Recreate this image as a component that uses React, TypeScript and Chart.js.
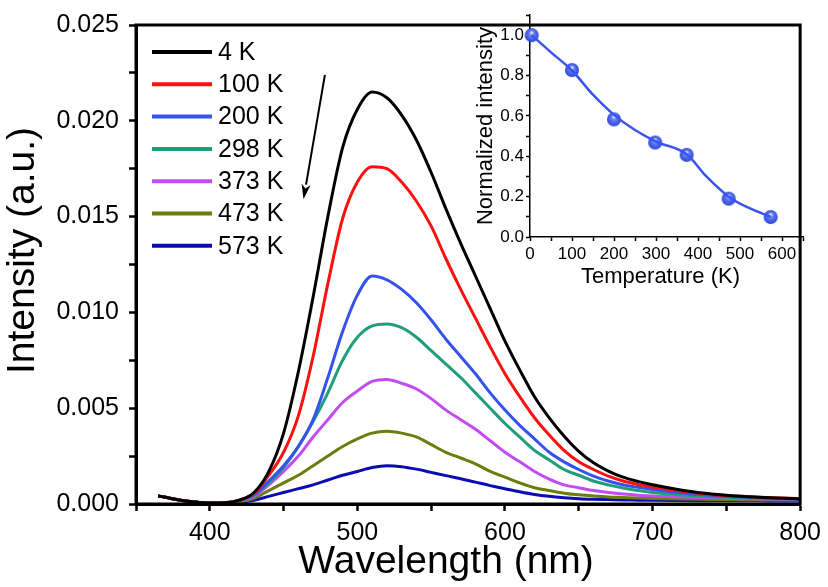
import React, { useEffect, useRef } from 'react';
import { Chart, registerables } from 'chart.js';

Chart.register(...registerables);

const FONT = '"Liberation Sans", Arial, Helvetica, sans-serif';

// ---------- main spectra ----------
const WAVELENGTHS = [365, 370, 380, 390, 400, 410, 420, 430, 440, 450, 460, 470, 480, 490, 500, 510, 520, 530, 540, 550, 560, 570, 580, 590, 600, 610, 620, 630, 640, 650, 660, 670, 680, 690, 700, 720, 740, 760, 780, 800];

const I_4K = [0.00042, 0.00035, 0.0002, 0.0001, 0.00005, 0.00006, 0.0002, 0.0006, 0.0017, 0.0037, 0.0069, 0.0108, 0.015, 0.0186, 0.0206, 0.0215, 0.0212, 0.0203, 0.019, 0.0173, 0.0154, 0.0136, 0.0119, 0.0102, 0.0085, 0.007, 0.0056, 0.0045, 0.00355, 0.00275, 0.00215, 0.00172, 0.0014, 0.00118, 0.001, 0.00072, 0.00052, 0.0004, 0.00032, 0.00027];
const I_100K = [0.00042, 0.00035, 0.0002, 0.0001, 0.00005, 0.00006, 0.0002, 0.00055, 0.0015, 0.0027, 0.0046, 0.0077, 0.0115, 0.0149, 0.0168, 0.0176, 0.0175, 0.0168, 0.0158, 0.0145, 0.0128, 0.0112, 0.0097, 0.0082, 0.0068, 0.0056, 0.0045, 0.0036, 0.0028, 0.0022, 0.0018, 0.00145, 0.0012, 0.00102, 0.00088, 0.00066, 0.0005, 0.0004, 0.00033, 0.00028];
const I_200K = [0.00042, 0.00035, 0.0002, 0.0001, 0.00005, 0.00006, 0.00018, 0.0005, 0.0012, 0.002, 0.003, 0.0044, 0.0066, 0.009, 0.0109, 0.0119, 0.0117, 0.0112, 0.0105, 0.0096, 0.0086, 0.0077, 0.0068, 0.0058, 0.0049, 0.0041, 0.0034, 0.0027, 0.0022, 0.0018, 0.00145, 0.0012, 0.001, 0.00087, 0.00076, 0.00058, 0.00045, 0.00036, 0.0003, 0.00026];
const I_298K = [0.00042, 0.00035, 0.0002, 0.0001, 0.00005, 0.00006, 0.00016, 0.00045, 0.0011, 0.0019, 0.003, 0.0043, 0.0058, 0.0075, 0.0087, 0.0093, 0.0094, 0.0092, 0.0087, 0.008, 0.0073, 0.0066, 0.0058, 0.005, 0.0042, 0.0035, 0.0028, 0.0023, 0.0018, 0.0015, 0.0012, 0.001, 0.00083, 0.0007, 0.0006, 0.00047, 0.00038, 0.00032, 0.00028, 0.00025];
const I_373K = [0.00042, 0.00035, 0.0002, 0.0001, 0.00005, 0.00006, 0.00015, 0.0004, 0.001, 0.0017, 0.0025, 0.0035, 0.0044, 0.0053, 0.0059, 0.0064, 0.0065, 0.0063, 0.006, 0.0055, 0.0049, 0.0044, 0.0039, 0.0033, 0.0027, 0.0022, 0.0017, 0.0013, 0.001, 0.00085, 0.0007, 0.0006, 0.00052, 0.00046, 0.00042, 0.00036, 0.00031, 0.00028, 0.00025, 0.00023];
const I_473K = [0.00042, 0.00035, 0.0002, 0.0001, 0.00005, 0.00006, 0.00012, 0.0003, 0.0007, 0.0011, 0.0015, 0.002, 0.0025, 0.003, 0.0034, 0.0037, 0.0038, 0.0037, 0.0035, 0.0031, 0.0027, 0.0024, 0.0021, 0.0017, 0.0014, 0.0011, 0.00085, 0.0007, 0.00056, 0.00048, 0.00042, 0.00037, 0.00034, 0.00031, 0.00029, 0.00026, 0.00024, 0.00022, 0.00021, 0.0002];
const I_573K = [0.00042, 0.00035, 0.0002, 0.0001, 0.00005, 0.00005, 0.0001, 0.0002, 0.0004, 0.0006, 0.0008, 0.001, 0.00125, 0.0015, 0.0017, 0.0019, 0.002, 0.00195, 0.00182, 0.00165, 0.00148, 0.00132, 0.00114, 0.00096, 0.0008, 0.00064, 0.0005, 0.0004, 0.00033, 0.00028, 0.00025, 0.00023, 0.00021, 0.0002, 0.00019, 0.00018, 0.00017, 0.00017, 0.00016, 0.00016];

const SERIES_LABELS = ['4 K', '100 K', '200 K', '298 K', '373 K', '473 K', '573 K'];
const SERIES_VALUES = [I_4K, I_100K, I_200K, I_298K, I_373K, I_473K, I_573K];
const SERIES_COLORS = ['#000000', '#ff1010', '#3352ee', '#1f9e7c', '#c24cf2', '#6b7d0a', '#0c0cb4'];

const X_TICK_LABELS = [400, 500, 600, 700, 800];
const Y_TICK_LABELS = [0, 0.005, 0.01, 0.015, 0.02, 0.025];

// arrow annotation (data coordinates)
const ARROW_FROM = { x: 478, y: 0.0224 };
const ARROW_TO = { x: 463.5, y: 0.0159 };

// ---------- inset ----------
const TEMPS = [4, 100, 200, 298, 373, 473, 573];
const NORM_INT = [1.0, 0.827, 0.583, 0.468, 0.407, 0.19, 0.099];
const FIT_T = [4, 50, 100, 150, 200, 250, 300, 373, 420, 473, 520, 573];
const FIT_Y = [1.0, 0.915, 0.825, 0.705, 0.605, 0.53, 0.473, 0.41, 0.3, 0.2, 0.145, 0.1];

function makeSphere(r: number) {
  const size = Math.ceil(r * 2 + 2);
  const c = document.createElement('canvas');
  c.width = size;
  c.height = size;
  const g = c.getContext('2d')!;
  const cx = size / 2;
  const grad = g.createRadialGradient(cx, cx - r * 0.4, r * 0.05, cx, cx, r);
  grad.addColorStop(0, '#f2f4ff');
  grad.addColorStop(0.3, '#6b82f2');
  grad.addColorStop(1, '#2b45d6');
  g.fillStyle = grad;
  g.beginPath();
  g.arc(cx, cx, r, 0, Math.PI * 2);
  g.fill();
  return c;
}

export default function App() {
  const mainRef = useRef<HTMLCanvasElement>(null);
  const insetRef = useRef<HTMLCanvasElement>(null);

  useEffect(() => {
    document.body.style.margin = '0';
    Chart.defaults.font.family = FONT;
    Chart.defaults.color = '#000';

    const framePlugin = {
      id: 'frame',
      afterDatasetsDraw(chart: any) {
        const { ctx, chartArea: a, scales } = chart;
        ctx.save();
        ctx.strokeStyle = '#000';
        ctx.lineWidth = 3;
        ctx.strokeRect(a.left, a.top, a.right - a.left, a.bottom - a.top);

        // arrow
        const x1 = scales.x.getPixelForValue(ARROW_FROM.x);
        const y1 = scales.y.getPixelForValue(ARROW_FROM.y);
        const x2 = scales.x.getPixelForValue(ARROW_TO.x);
        const y2 = scales.y.getPixelForValue(ARROW_TO.y);
        const ang = Math.atan2(y2 - y1, x2 - x1);
        const hl = 15;
        const hw = 4.5;
        const bx = x2 - hl * Math.cos(ang);
        const by = y2 - hl * Math.sin(ang);
        ctx.lineWidth = 2;
        ctx.beginPath();
        ctx.moveTo(x1, y1);
        ctx.lineTo(bx, by);
        ctx.stroke();
        ctx.fillStyle = '#000';
        ctx.beginPath();
        ctx.moveTo(x2, y2);
        ctx.lineTo(bx + hw * Math.sin(ang), by - hw * Math.cos(ang));
        ctx.lineTo(bx + 4 * Math.cos(ang), by + 4 * Math.sin(ang));
        ctx.lineTo(bx - hw * Math.sin(ang), by + hw * Math.cos(ang));
        ctx.closePath();
        ctx.fill();

        // legend
        ctx.font = `25px ${FONT}`;
        ctx.textBaseline = 'middle';
        ctx.textAlign = 'left';
        SERIES_LABELS.forEach((lab, i) => {
          const yy = a.top + 27 + i * 32.3;
          ctx.strokeStyle = SERIES_COLORS[i];
          ctx.lineWidth = 4;
          ctx.beginPath();
          ctx.moveTo(a.left + 16, yy);
          ctx.lineTo(a.left + 76, yy);
          ctx.stroke();
          ctx.fillStyle = '#000';
          ctx.fillText(lab, a.left + 82, yy + 1);
        });

        // axis titles
        ctx.font = `39px ${FONT}`;
        ctx.textAlign = 'center';
        ctx.textBaseline = 'alphabetic';
        ctx.fillText('Wavelength (nm)', (a.left + a.right) / 2 - 22, a.bottom + 69);
        ctx.translate(a.left - 102, (a.top + a.bottom) / 2 - 14);
        ctx.rotate(-Math.PI / 2);
        ctx.fillText('Intensity (a.u.)', 0, 0);
        ctx.restore();
      },
    };

    const main = new Chart(mainRef.current!, {
      type: 'line',
      data: {
        datasets: SERIES_VALUES.map((vals, i) => ({
          label: SERIES_LABELS[i],
          data: WAVELENGTHS.map((w, j) => ({ x: w, y: vals[j] })),
          borderColor: SERIES_COLORS[i],
          borderWidth: 3,
          pointRadius: 0,
          fill: false,
          cubicInterpolationMode: 'monotone' as const,
        })),
      },
      options: {
        responsive: false,
        animation: false,
        events: [],
        layout: { padding: { left: 0, top: 15, right: 26, bottom: 0 } },
        plugins: { legend: { display: false }, tooltip: { enabled: false } },
        scales: {
          x: {
            type: 'linear',
            min: 350,
            max: 800,
            afterFit: (s: any) => { s.height = 83; },
            ticks: {
              stepSize: 50,
              autoSkip: false,
              maxRotation: 0,
              color: '#000',
              padding: 7,
              font: { size: 25, family: FONT },
              callback: (v: any) => (X_TICK_LABELS.includes(Number(v)) ? String(v) : ''),
            },
            grid: { drawOnChartArea: false, tickLength: 7, tickWidth: 2.5, tickColor: '#000' },
            border: { display: true, width: 3, color: '#000' },
          },
          y: {
            type: 'linear',
            min: 0,
            max: 0.025,
            afterFit: (s: any) => { s.width = 136; },
            ticks: {
              stepSize: 0.0025,
              autoSkip: false,
              color: '#000',
              padding: 10,
              font: { size: 25, family: FONT },
              callback: (v: any) => {
                const n = Math.round(Number(v) / 0.0025);
                const val = n * 0.0025;
                return n % 2 === 0 && Y_TICK_LABELS.some((t) => Math.abs(t - val) < 1e-9) ? val.toFixed(3) : '';
              },
            },
            grid: { drawOnChartArea: false, tickLength: 7, tickWidth: 2.5, tickColor: '#000' },
            border: { display: true, width: 3, color: '#000' },
          },
        },
      },
      plugins: [framePlugin],
    } as any);

    const sphere = makeSphere(7);

    const insetTitles = {
      id: 'insetTitles',
      afterDraw(chart: any) {
        const { ctx, chartArea: a } = chart;
        ctx.save();
        ctx.fillStyle = '#000';
        ctx.font = `22px ${FONT}`;
        ctx.textAlign = 'center';
        ctx.textBaseline = 'alphabetic';
        ctx.fillText('Temperature (K)', (a.left + a.right) / 2 - 6, a.bottom + 46);
        ctx.translate(a.left - 38, (a.top + a.bottom) / 2);
        ctx.rotate(-Math.PI / 2);
        ctx.fillText('Normalized intensity', 0, 0);
        ctx.restore();
      },
    };

    const inset = new Chart(insetRef.current!, {
      type: 'line',
      data: {
        datasets: [
          {
            data: FIT_T.map((t, i) => ({ x: t, y: FIT_Y[i] })),
            borderColor: '#3a55ee',
            borderWidth: 2.5,
            pointRadius: 0,
            fill: false,
            cubicInterpolationMode: 'monotone' as const,
          },
          {
            data: TEMPS.map((t, i) => ({ x: t, y: NORM_INT[i] })),
            showLine: false,
            pointStyle: sphere,
            pointRadius: 7,
            clip: false,
          },
        ],
      },
      options: {
        responsive: false,
        animation: false,
        events: [],
        layout: { padding: { left: 0, top: 15, right: 25, bottom: 0 } },
        plugins: { legend: { display: false }, tooltip: { enabled: false } },
        scales: {
          x: {
            type: 'linear',
            min: 0,
            max: 650,
            afterFit: (s: any) => { s.height = 53; },
            ticks: {
              stepSize: 50,
              autoSkip: false,
              maxRotation: 0,
              color: '#000',
              padding: 3,
              font: { size: 17, family: FONT },
              callback: (v: any) => (Number(v) % 100 === 0 ? String(v) : ''),
            },
            grid: { drawOnChartArea: false, tickLength: 4, tickWidth: 1.5, tickColor: '#000' },
            border: { display: true, width: 1.5, color: '#000' },
          },
          y: {
            type: 'linear',
            min: 0,
            max: 1.1,
            afterFit: (s: any) => { s.width = 60; },
            ticks: {
              stepSize: 0.1,
              autoSkip: false,
              color: '#000',
              padding: 2,
              font: { size: 17, family: FONT },
              callback: (v: any) => {
                const n = Math.round(Number(v) * 10);
                return n % 2 === 0 ? (n / 10).toFixed(1) : '';
              },
            },
            grid: { drawOnChartArea: false, tickLength: 4, tickWidth: 1.5, tickColor: '#000' },
            border: { display: true, width: 1.5, color: '#000' },
          },
        },
      },
      plugins: [insetTitles],
    } as any);

    return () => {
      main.destroy();
      inset.destroy();
    };
  }, []);

  return (
    <div style={{ position: 'relative', width: 828, height: 587, background: '#fff', overflow: 'hidden' }}>
      <canvas ref={mainRef} width={828} height={587} style={{ position: 'absolute', left: 0, top: 0 }} />
      <canvas ref={insetRef} width={358} height={290} style={{ position: 'absolute', left: 470, top: 0 }} />
    </div>
  );
}
